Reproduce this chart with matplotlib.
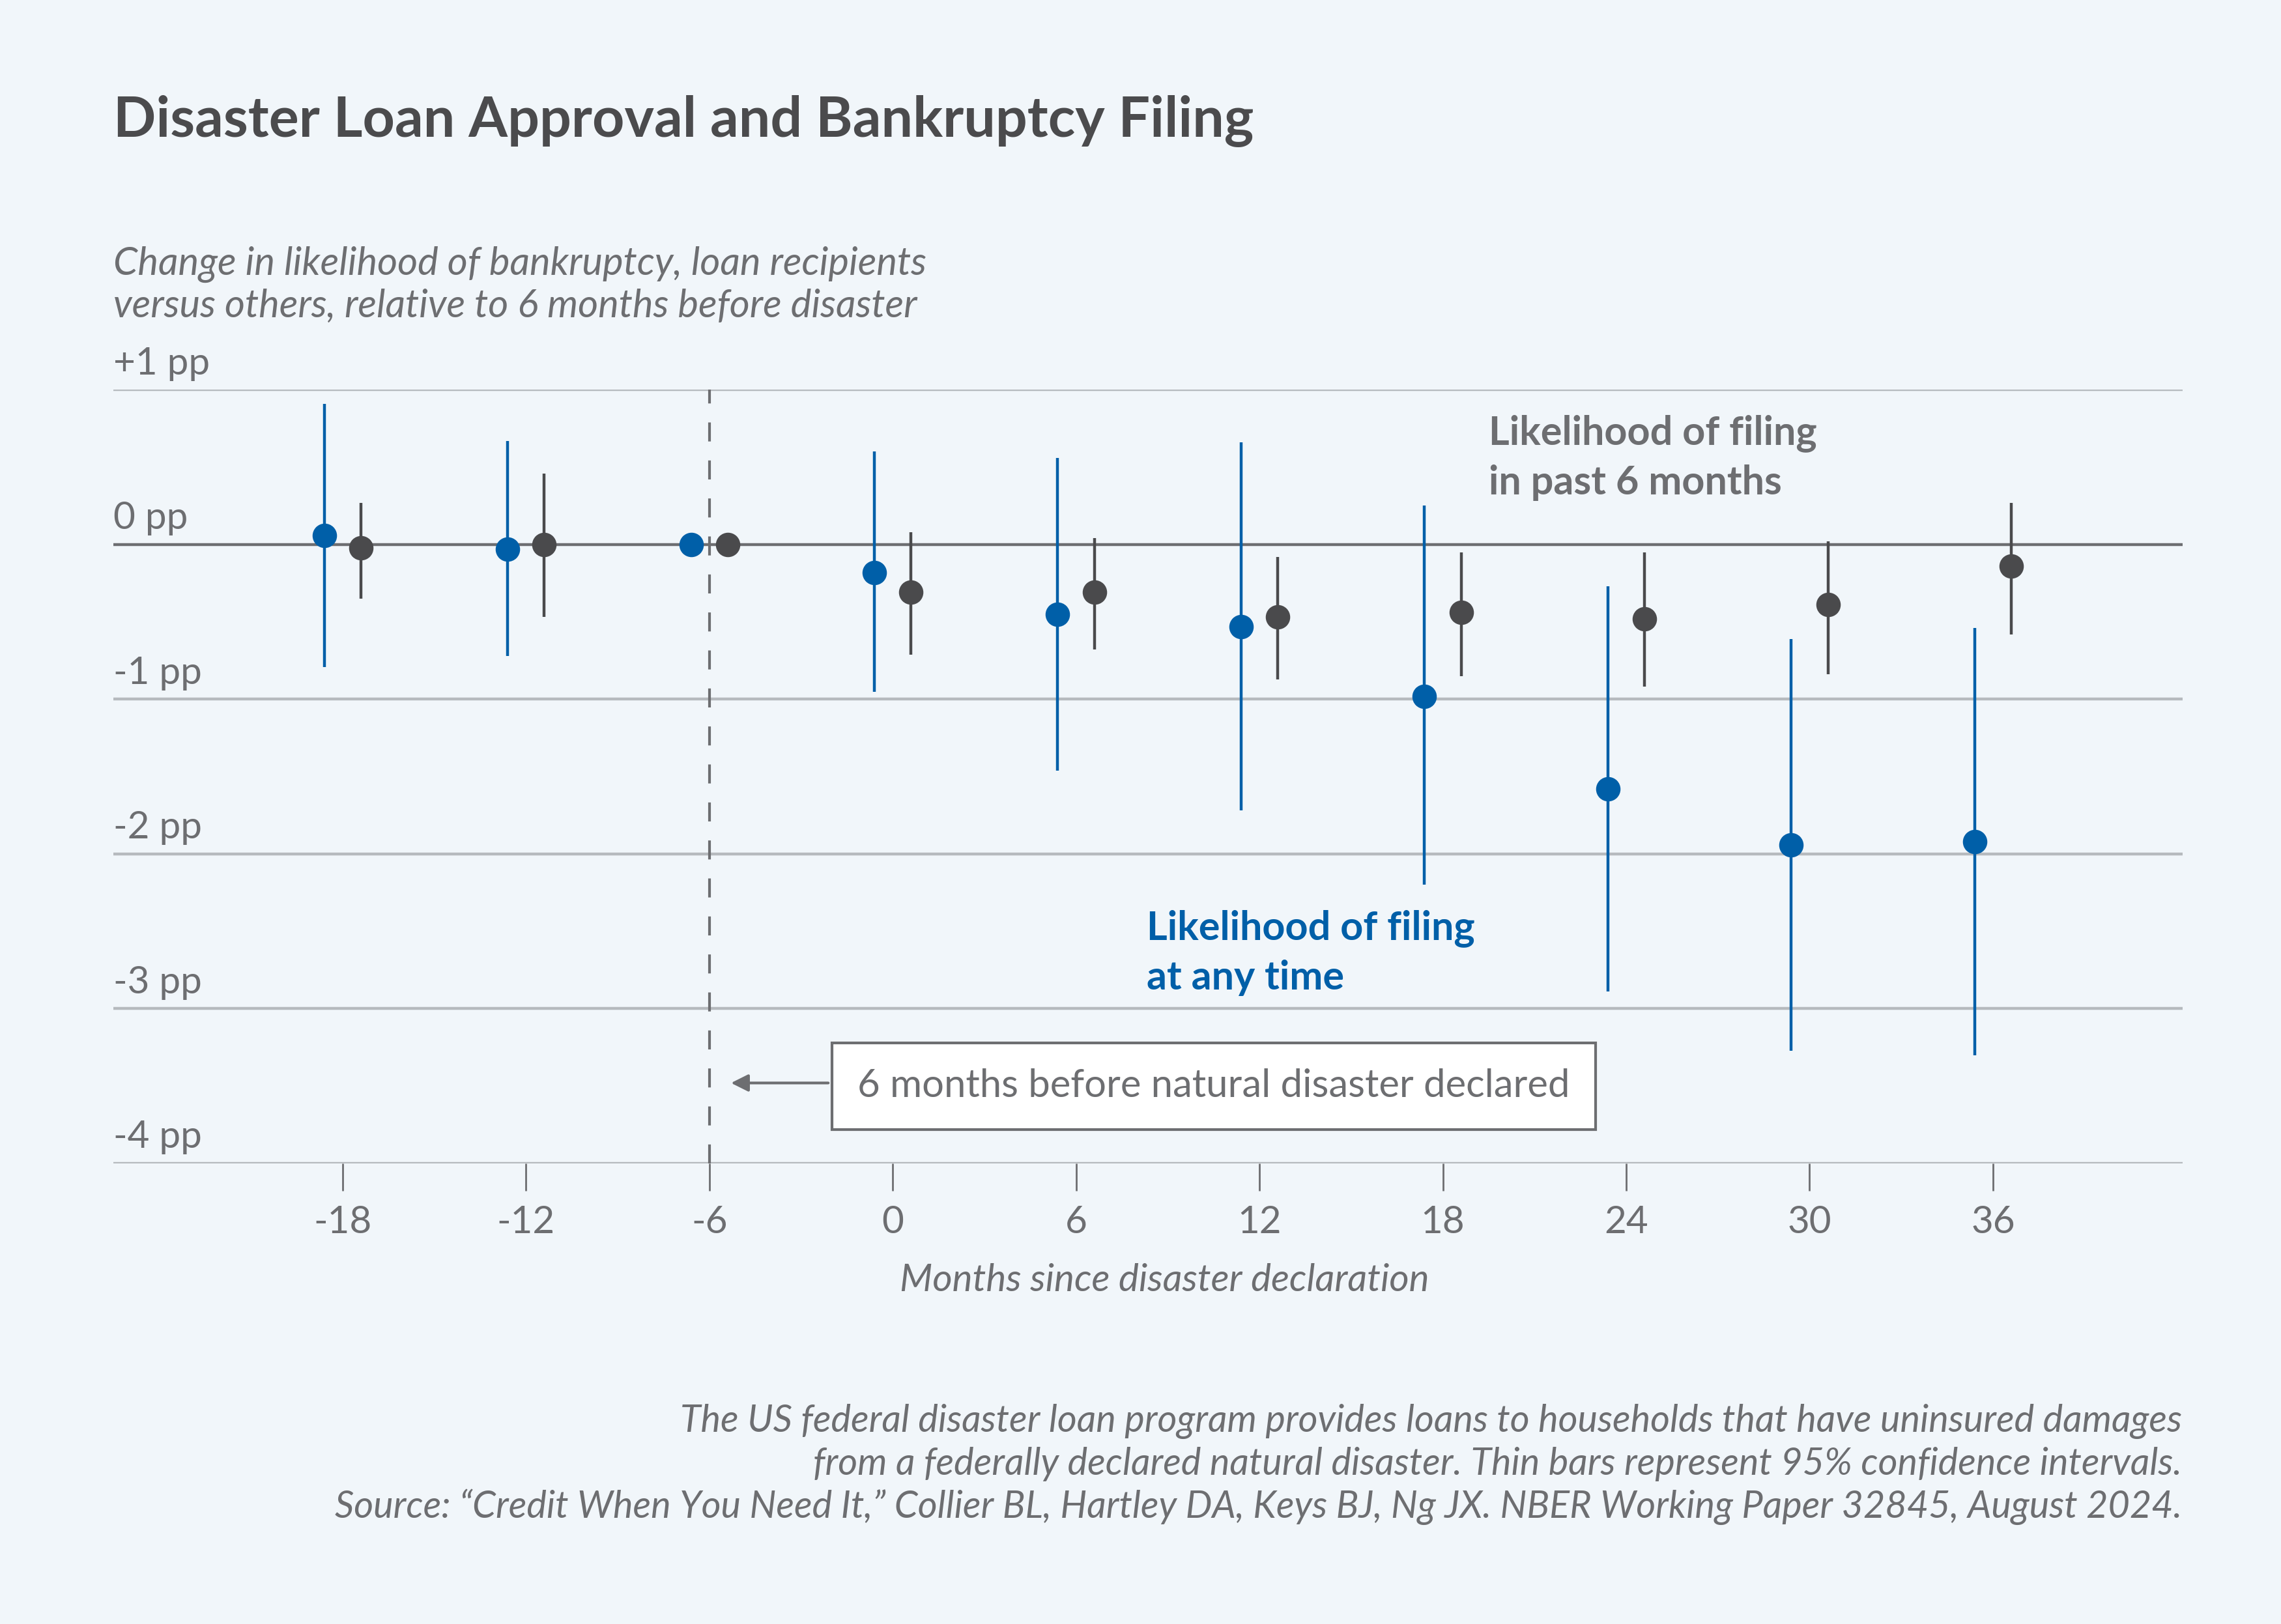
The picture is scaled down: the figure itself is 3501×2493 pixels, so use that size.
import matplotlib
matplotlib.use("Agg")
import matplotlib.pyplot as plt
import matplotlib.transforms as mtransforms

# données (points de pourcentage)
mois = [-18, -12, -6, 0, 6, 12, 18, 24, 30, 36]

bleu_val = [0.06, -0.03, 0.0, -0.18, -0.45, -0.53, -0.98, -1.58, -1.94, -1.92]
bleu_haut = [0.91, 0.67, 0.0, 0.60, 0.56, 0.66, 0.25, -0.27, -0.61, -0.54]
bleu_bas = [-0.79, -0.72, 0.0, -0.95, -1.46, -1.72, -2.20, -2.89, -3.27, -3.30]

gris_val = [-0.02, 0.0, 0.0, -0.31, -0.31, -0.47, -0.44, -0.48, -0.39, -0.14]
gris_haut = [0.27, 0.46, 0.0, 0.08, 0.04, -0.08, -0.05, -0.05, 0.02, 0.27]
gris_bas = [-0.35, -0.47, 0.0, -0.71, -0.68, -0.87, -0.85, -0.92, -0.84, -0.58]

y_ticks = [1, 0, -1, -2, -3, -4]
y_labels = ["+1 pp", "0 pp", "-1 pp", "-2 pp", "-3 pp", "-4 pp"]
x_labels = ["-18", "-12", "-6", "0", "6", "12", "18", "24", "30", "36"]

BLEU = "#005fa8"
GRIS_PT = "#4a4a4c"
GRIS_TXT = "#6d6e71"
GRILLE = "#b6babe"
FOND = "#f1f6fa"

plt.rcParams["font.family"] = ["Lato", "DejaVu Sans"]

fig = plt.figure(figsize=(35.01, 24.93), dpi=100, facecolor=FOND)
ax = fig.add_axes([0.0497, 0.2836, 0.9071, 0.4764])
ax.set_facecolor(FOND)
ax.set_xlim(-25.5, 42.2)
ax.set_ylim(-4, 1)
for s in ax.spines.values():
    s.set_visible(False)

# lignes de grille
for v in y_ticks:
    c = GRIS_TXT if v == 0 else GRILLE
    ax.axhline(v, color=c, lw=3.2, zorder=1)

# ligne pointillée à -6 mois
ax.axvline(-6, color=GRIS_TXT, lw=3, dashes=(7, 7), zorder=1)

# étiquettes de l'axe y au-dessus des lignes
trans = mtransforms.blended_transform_factory(ax.transAxes, ax.transData)
for v, lab in zip(y_ticks, y_labels):
    ax.text(0, v + 0.1, lab, transform=trans, ha="left", va="baseline",
            fontsize=42, color=GRIS_TXT)

# axe x
ax.set_xticks(mois)
ax.set_xticklabels(x_labels, fontsize=42, color=GRIS_TXT)
ax.tick_params(axis="x", direction="out", length=30, width=2, color=GRIS_TXT, pad=16)
ax.tick_params(axis="y", left=False, labelleft=False)
ax.set_xlabel("Months since disaster declaration", fontsize=42, color=GRIS_TXT,
              style="italic")
ax.xaxis.set_label_coords(0.508, -0.129)

# intervalles et points
dx = 0.6
xb = [m - dx for m in mois]
xg = [m + dx for m in mois]
ax.vlines(xb, bleu_bas, bleu_haut, color=BLEU, lw=3.2, zorder=3)
ax.vlines(xg, gris_bas, gris_haut, color=GRIS_PT, lw=3.2, zorder=3)
ax.plot(xb, bleu_val, "o", color=BLEU, ms=26, zorder=4)
ax.plot(xg, gris_val, "o", color=GRIS_PT, ms=26, zorder=4)

# étiquettes des séries
ax.text(19.5, 0.84, "Likelihood of filing\nin past 6 months", fontsize=44,
        fontweight="bold", color=GRIS_TXT, va="top", ha="left", linespacing=1.4)
ax.text(8.3, -2.36, "Likelihood of filing\nat any time", fontsize=44,
        fontweight="bold", color=BLEU, va="top", ha="left", linespacing=1.4)

# boîte d'annotation
ax.annotate("", xy=(-5.35, -3.48), xytext=(-2.05, -3.48),
            arrowprops=dict(arrowstyle="-|>", color=GRIS_TXT, lw=3,
                            mutation_scale=40))
ax.text(10.5, -3.5, "6 months before natural disaster declared", fontsize=43,
        color=GRIS_TXT, ha="center", va="center", zorder=5,
        bbox=dict(boxstyle="square,pad=0.66", fc="white", ec=GRIS_TXT, lw=3))

# titre et sous-titre
fig.text(0.0497, 1 - 94 / 1117, "Disaster Loan Approval and Bankruptcy Filing",
         fontsize=62, fontweight="bold", color="#4b4b4d", ha="left", va="baseline")
fig.text(0.0497, 1 - 189 / 1117, "Change in likelihood of bankruptcy, loan recipients",
         fontsize=43, style="italic", color=GRIS_TXT, ha="left", va="baseline")
fig.text(0.0497, 1 - 218 / 1117, "versus others, relative to 6 months before disaster",
         fontsize=43, style="italic", color=GRIS_TXT, ha="left", va="baseline")

# note de bas de page
notes = [
    "The US federal disaster loan program provides loans to households that have uninsured damages",
    "from a federally declared natural disaster. Thin bars represent 95% confidence intervals.",
    "Source: \u201cCredit When You Need It,\u201d Collier BL, Hartley DA, Keys BJ, Ng JX. NBER Working Paper 32845, August 2024.",
]
for i, n in enumerate(notes):
    fig.text(1500 / 1568, 1 - (985 + 29.5 * i) / 1117, n, fontsize=41.5, style="italic",
             color=GRIS_TXT, ha="right", va="baseline")

fig.savefig("out.png", dpi=100, facecolor=FOND)
